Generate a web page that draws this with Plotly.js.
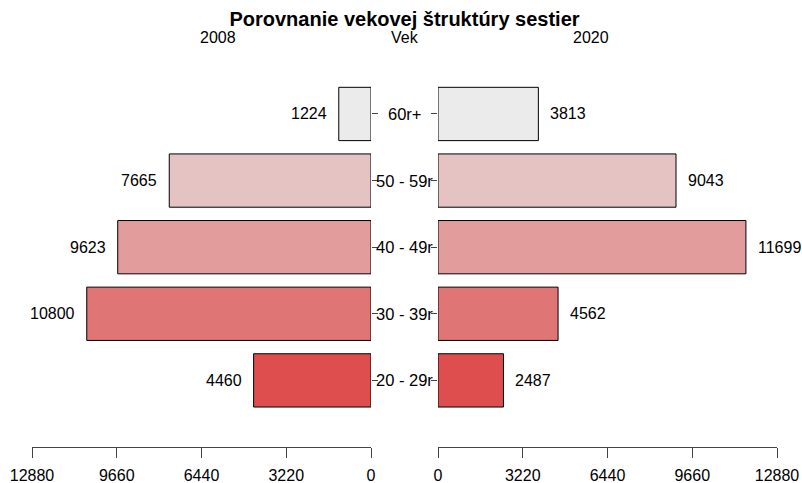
<!DOCTYPE html>
<html>
<head>
<meta charset="utf-8">
<script src="https://cdn.plot.ly/plotly-3.0.1.min.js"></script>
<style>html,body{margin:0;padding:0;background:#fff}#chart{width:802px;height:483px}</style>
</head>
<body>
<div id="chart"></div>
<script>
// Data (bottom to top)
const categories = ['20 - 29r', '30 - 39r', '40 - 49r', '50 - 59r', '60r+'];
const values2008 = [4460, 10800, 9623, 7665, 1224];
const values2020 = [2487, 4562, 11699, 9043, 3813];
const barColors = ['#DE4E4E', '#E07575', '#E39C9C', '#E6C3C3', '#EBEBEB'];
const tickValues = [0, 3220, 6440, 9660, 12880];
const tickLabels = ['0', '3220', '6440', '9660', '12880'];
const chartTitle = 'Porovnanie vekovej štruktúry sestier';
const leftLabel = '2008';
const rightLabel = '2020';
const centerLabel = 'Vek';

const FONT = 'Liberation Sans, Arial, Helvetica, sans-serif';
const xmax = 12880;

const traces = [
  {
    type: 'bar', orientation: 'h',
    x: values2008, y: categories,
    xaxis: 'x', yaxis: 'y',
    width: 0.8,
    marker: {color: barColors, line: {color: '#000', width: 1}},
    hoverinfo: 'x+y', showlegend: false
  },
  {
    type: 'bar', orientation: 'h',
    x: values2020, y: categories,
    xaxis: 'x2', yaxis: 'y2',
    width: 0.8,
    marker: {color: barColors, line: {color: '#000', width: 1}},
    hoverinfo: 'x+y', showlegend: false
  }
];

const annotations = [];
categories.forEach((c, i) => {
  annotations.push({xref: 'paper', yref: 'y', x: 0.5, y: c, text: c, showarrow: false,
    xanchor: 'center', yanchor: 'middle', font: {family: FONT, size: 16.5, color: '#000'}});
  annotations.push({xref: 'x', yref: 'y', x: values2008[i], y: c, text: String(values2008[i]), showarrow: false,
    xanchor: 'right', yanchor: 'middle', xshift: -10, font: {family: FONT, size: 16, color: '#000'}});
  annotations.push({xref: 'x2', yref: 'y2', x: values2020[i], y: c, text: String(values2020[i]), showarrow: false,
    xanchor: 'left', yanchor: 'middle', xshift: 10, font: {family: FONT, size: 16, color: '#000'}});
});
// top labels
const W = 802, H = 483, ml = 32, mr = 25;
const px = (p) => (p - ml) / (W - ml - mr);
annotations.push({xref: 'paper', yref: 'paper', x: px(217.5), y: 1, text: leftLabel, showarrow: false,
  xanchor: 'center', yanchor: 'middle', font: {family: FONT, size: 16, color: '#000'}});
annotations.push({xref: 'paper', yref: 'paper', x: px(404.5), y: 1, text: centerLabel, showarrow: false,
  xanchor: 'center', yanchor: 'middle', font: {family: FONT, size: 16, color: '#000'}});
annotations.push({xref: 'paper', yref: 'paper', x: px(590.5), y: 1, text: rightLabel, showarrow: false,
  xanchor: 'center', yanchor: 'middle', font: {family: FONT, size: 16, color: '#000'}});

const mt = 74, mb = 36;
const plotH = H - mt - mb;
annotations.slice(-3).forEach(a => { a.y = 1 + (mt - 37.5) / plotH; });

const xCommon = {
  showgrid: false, zeroline: false, showline: true, linecolor: '#444', linewidth: 1,
  ticks: 'outside', ticklen: 10, tickcolor: '#444', tickwidth: 1,
  tickvals: tickValues, ticktext: tickLabels,
  tickfont: {family: FONT, size: 16, color: '#000'},
  ticklabelstandoff: 4, fixedrange: true
};
const yCommon = {
  type: 'category', categoryorder: 'array', categoryarray: categories,
  range: [-1.0, 4.6], showgrid: false, zeroline: false, showline: false,
  showticklabels: false, ticks: 'outside', ticklen: 6, tickcolor: '#444', tickwidth: 1,
  fixedrange: true
};

const layout = {
  width: W, height: H,
  margin: {l: ml, r: mr, t: mt, b: mb, pad: 0},
  paper_bgcolor: '#fff', plot_bgcolor: '#fff',
  bargap: 0,
  title: {text: '<b>' + chartTitle + '</b>', font: {family: FONT, size: 20, color: '#000'},
    x: px(404.5), xref: 'paper', xanchor: 'center', y: 1 - 19 / H, yref: 'container', yanchor: 'middle'},
  xaxis: Object.assign({}, xCommon, {domain: [0, px(371)], range: [xmax, 0], autorange: false, anchor: 'y'}),
  xaxis2: Object.assign({}, xCommon, {domain: [px(438), 1], range: [0, xmax], autorange: false, anchor: 'y2'}),
  yaxis: Object.assign({}, yCommon, {anchor: 'x', side: 'right'}),
  yaxis2: Object.assign({}, yCommon, {anchor: 'x2', side: 'left'}),
  annotations: annotations,
  showlegend: false
};

Plotly.newPlot('chart', traces, layout, {displayModeBar: false, staticPlot: true});
</script>
</body>
</html>
